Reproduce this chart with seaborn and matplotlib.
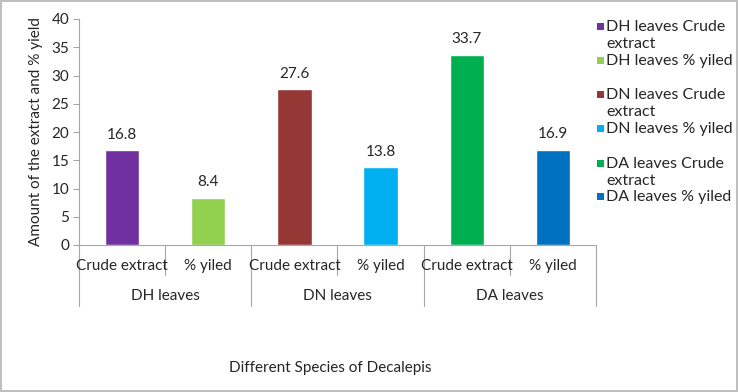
import matplotlib
matplotlib.use("Agg")
import matplotlib.pyplot as plt
import matplotlib.transforms as mtransforms
from matplotlib.patches import Rectangle
import seaborn as sns

# Data
groups = ["DH leaves", "DN leaves", "DA leaves"]
measures = ["Crude extract", "% yiled"]
values = [16.8, 8.4, 27.6, 13.8, 33.7, 16.9]
colors = ["#7030A0", "#92D050", "#953735", "#00B0F0", "#00B050", "#0070C0"]
series = [f"{g} {m}" for g in groups for m in measures]
legend_labels = [["DH leaves Crude", "extract"], ["DH leaves % yiled"],
                 ["DN leaves Crude", "extract"], ["DN leaves % yiled"],
                 ["DA leaves Crude", "extract"], ["DA leaves % yiled"]]

sns.set_theme(style="white")
plt.rcParams["font.family"] = ["Lato", "DejaVu Sans"]
fs = 11
grey = "#A6A6A6"

fig = plt.figure(figsize=(7.38, 3.92), dpi=100)
fig.patch.set_edgecolor("#BFBFBF")
fig.patch.set_linewidth(1.5)
ax = fig.add_axes([79 / 738, 147 / 392, 517 / 738, 226 / 392])

sns.barplot(x=series, y=values, hue=series, palette=colors, width=0.4,
            legend=False, ax=ax, saturation=1)

for c in ax.containers:
    ax.bar_label(c, fmt="%.1f", padding=6, fontsize=fs, color="#262626")

ax.set_ylim(0, 40)
ax.set_yticks(range(0, 41, 5))
ax.set_xlim(-0.5, 5.5)
ax.tick_params(axis="y", labelsize=fs, length=4, width=0.8, color=grey,
               left=True, pad=3, labelcolor="#262626")
ax.set_xticks([])
ax.set_xlabel("")
ax.set_ylabel("Amount of the extract and % yield", fontsize=fs, color="#262626",
              labelpad=6)
for s in ["top", "right"]:
    ax.spines[s].set_visible(False)
for s in ["left", "bottom"]:
    ax.spines[s].set_color(grey)
    ax.spines[s].set_linewidth(0.8)

# multi-level category axis
trans = mtransforms.blended_transform_factory(ax.transData, ax.transAxes)
for i, s in enumerate(series):
    ax.text(i, -0.093, measures[i % 2], transform=trans, ha="center",
            va="center", fontsize=fs, color="#262626")
for b in range(7):
    x = b - 0.5
    low = -0.27 if b % 2 == 0 else -0.133
    ax.plot([x, x], [0, low], transform=trans, color=grey, lw=0.8,
            clip_on=False)
for j, g in enumerate(groups):
    ax.text(2 * j + 0.5, -0.226, g, transform=trans, ha="center",
            va="center", fontsize=fs, color="#262626")

fig.text(330 / 738, 1 - 368 / 392, "Different Species of Decalepis",
         ha="center", va="center", fontsize=fs, color="#262626")

# legend drawn Excel-style (marker on first line of wrapped entries)
baselines = [31, 65, 99, 133, 168, 201]
for y, lines, col in zip(baselines, legend_labels, colors):
    fig.patches.append(Rectangle((597 / 738, 1 - (y - 1) / 392), 7 / 738,
                                 7 / 392, transform=fig.transFigure,
                                 facecolor=col, edgecolor="none"))
    for k, line in enumerate(lines):
        fig.text(606 / 738, 1 - (y + 17 * k) / 392, line, ha="left",
                 va="baseline", fontsize=11.5, color="#262626")

fig.savefig("out.png", dpi=100, edgecolor=fig.get_edgecolor())
